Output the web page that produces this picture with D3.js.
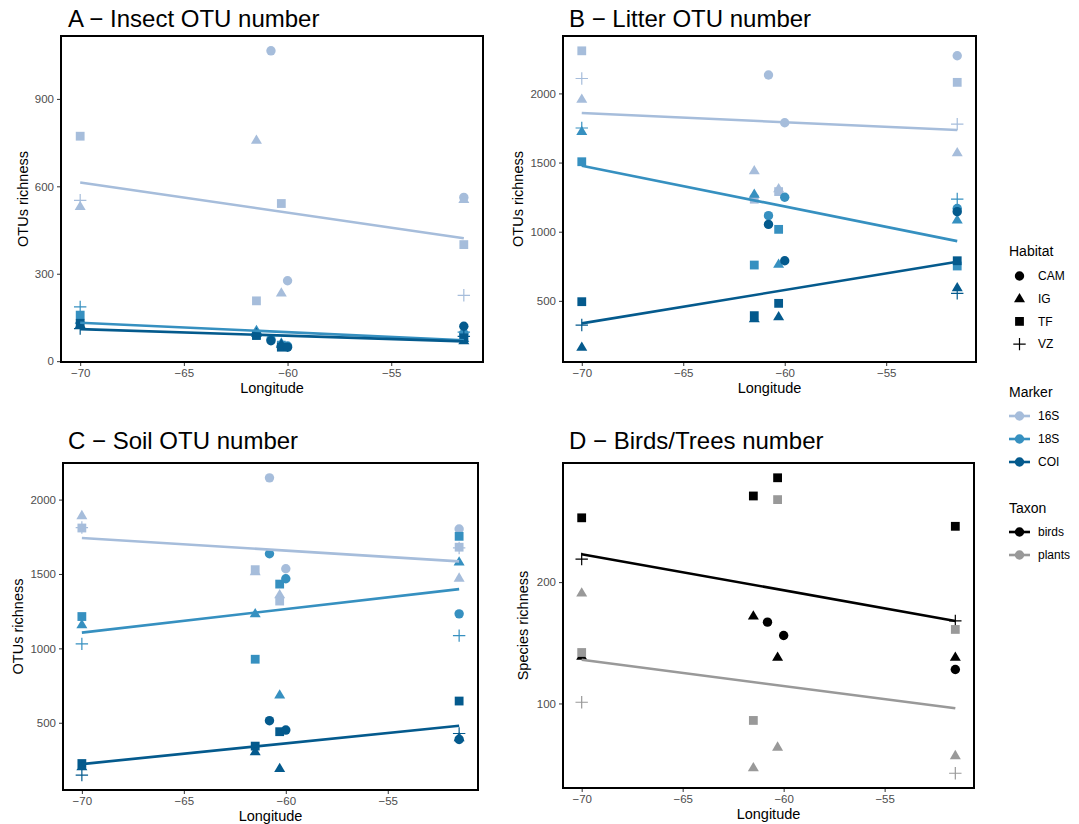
<!DOCTYPE html>
<html>
<head>
<meta charset="utf-8">
<script src="https://cdn.jsdelivr.net/npm/d3@7"></script>
<style>
  body { margin: 0; background: #fff; }
  svg { display: block; font-family: "Liberation Sans", Arial, sans-serif; }
</style>
</head>
<body>
<svg id="chart" width="1079" height="824"></svg>
<script>
// ---- data ----
var longitudeTicks = [-70, -65, -60, -55];
var habitats = ["CAM", "IG", "TF", "VZ"];
var markers = ["16S", "18S", "COI"];
var markerColors = ["#a6bddb", "#3690c0", "#045a8d"];
var taxa = ["birds", "plants"];
var taxonColors = ["#000000", "#999999"];
var fitLongitudes = [-70, -51.5];

// [longitude, habitat, group, richness]
var insectData = [
  [-70, "TF", "16S", 772], [-70, "VZ", "16S", 552], [-70, "IG", "16S", 531],
  [-61.5, "IG", "16S", 758], [-61.5, "TF", "16S", 207], [-60.8, "CAM", "16S", 1065],
  [-60.3, "TF", "16S", 541], [-60.3, "IG", "16S", 234], [-60, "CAM", "16S", 276],
  [-51.5, "CAM", "16S", 562], [-51.5, "IG", "16S", 555], [-51.5, "TF", "16S", 400], [-51.5, "VZ", "16S", 226],
  [-70, "VZ", "18S", 186], [-70, "TF", "18S", 158], [-70, "IG", "18S", 140],
  [-61.5, "IG", "18S", 105], [-61.5, "TF", "18S", 92], [-60.8, "CAM", "18S", 75],
  [-60.3, "IG", "18S", 62], [-60.3, "TF", "18S", 55], [-60, "CAM", "18S", 52],
  [-51.5, "CAM", "18S", 95], [-51.5, "VZ", "18S", 100], [-51.5, "TF", "18S", 88], [-51.5, "IG", "18S", 78],
  [-70, "TF", "COI", 130], [-70, "IG", "COI", 125], [-70, "VZ", "COI", 112],
  [-61.5, "IG", "COI", 96], [-61.5, "TF", "COI", 88], [-60.8, "CAM", "COI", 70],
  [-60.3, "IG", "COI", 58], [-60.3, "TF", "COI", 48], [-60, "CAM", "COI", 48],
  [-51.5, "CAM", "COI", 120], [-51.5, "VZ", "COI", 85], [-51.5, "TF", "COI", 80], [-51.5, "IG", "COI", 70]
];
var insectFit = [["16S", 613, 422], ["18S", 132, 72], ["COI", 110, 68]];
var insectTicks = [0, 300, 600, 900];

var litterData = [
  [-70, "TF", "16S", 2308], [-70, "VZ", "16S", 2108], [-70, "IG", "16S", 1957],
  [-61.5, "IG", "16S", 1441], [-61.5, "TF", "16S", 1235], [-60.8, "CAM", "16S", 2133],
  [-60.3, "IG", "16S", 1310], [-60.3, "TF", "16S", 1290], [-60, "CAM", "16S", 1788],
  [-51.5, "CAM", "16S", 2272], [-51.5, "TF", "16S", 2080], [-51.5, "VZ", "16S", 1778], [-51.5, "IG", "16S", 1571],
  [-70, "VZ", "18S", 1750], [-70, "IG", "18S", 1725], [-70, "TF", "18S", 1506],
  [-61.5, "IG", "18S", 1270], [-61.5, "TF", "18S", 759], [-60.8, "CAM", "18S", 1116],
  [-60.3, "TF", "18S", 1017], [-60.3, "IG", "18S", 764], [-60, "CAM", "18S", 1249],
  [-51.5, "VZ", "18S", 1236], [-51.5, "CAM", "18S", 1168], [-51.5, "IG", "18S", 1084], [-51.5, "TF", "18S", 752],
  [-70, "TF", "COI", 494], [-70, "VZ", "COI", 325], [-70, "IG", "COI", 165],
  [-61.5, "TF", "COI", 393], [-61.5, "IG", "COI", 370], [-60.8, "CAM", "COI", 1053],
  [-60.3, "TF", "COI", 482], [-60.3, "IG", "COI", 385], [-60, "CAM", "COI", 790],
  [-51.5, "CAM", "COI", 1145], [-51.5, "TF", "COI", 790], [-51.5, "IG", "COI", 595], [-51.5, "VZ", "COI", 554]
];
var litterFit = [["16S", 1858, 1735], ["18S", 1477, 932], ["COI", 337, 783]];
var litterTicks = [500, 1000, 1500, 2000];

var soilData = [
  [-70, "IG", "16S", 1892], [-70, "TF", "16S", 1809], [-70, "VZ", "16S", 1812],
  [-61.5, "TF", "16S", 1529], [-61.5, "IG", "16S", 1515], [-60.8, "CAM", "16S", 2146],
  [-60.3, "IG", "16S", 1360], [-60.3, "TF", "16S", 1318], [-60, "CAM", "16S", 1535],
  [-51.5, "CAM", "16S", 1802], [-51.5, "TF", "16S", 1680], [-51.5, "VZ", "16S", 1675], [-51.5, "IG", "16S", 1472],
  [-70, "TF", "18S", 1214], [-70, "IG", "18S", 1158], [-70, "VZ", "18S", 1030],
  [-61.5, "IG", "18S", 1232], [-61.5, "TF", "18S", 927], [-60.8, "CAM", "18S", 1636],
  [-60.3, "TF", "18S", 1432], [-60.3, "IG", "18S", 687], [-60, "CAM", "18S", 1468],
  [-51.5, "TF", "18S", 1753], [-51.5, "IG", "18S", 1580], [-51.5, "CAM", "18S", 1232], [-51.5, "VZ", "18S", 1086],
  [-70, "TF", "COI", 226], [-70, "IG", "COI", 205], [-70, "VZ", "COI", 148],
  [-61.5, "TF", "COI", 343], [-61.5, "IG", "COI", 305], [-60.8, "CAM", "COI", 514],
  [-60.3, "TF", "COI", 440], [-60.3, "IG", "COI", 193], [-60, "CAM", "COI", 451],
  [-51.5, "TF", "COI", 646], [-51.5, "VZ", "COI", 428], [-51.5, "IG", "COI", 399], [-51.5, "CAM", "COI", 388]
];
var soilFit = [["16S", 1742, 1585], ["18S", 1106, 1398], ["COI", 222, 480]];
var soilTicks = [500, 1000, 1500, 2000];

var speciesData = [
  [-70, "TF", "birds", 253], [-70, "VZ", "birds", 219], [-70, "IG", "birds", 139],
  [-61.5, "TF", "birds", 271], [-61.5, "IG", "birds", 172], [-60.8, "CAM", "birds", 167],
  [-60.3, "TF", "birds", 286], [-60.3, "IG", "birds", 138], [-60, "CAM", "birds", 156],
  [-51.5, "TF", "birds", 246], [-51.5, "VZ", "birds", 168], [-51.5, "IG", "birds", 138], [-51.5, "CAM", "birds", 128],
  [-70, "IG", "plants", 191], [-70, "TF", "plants", 142], [-70, "VZ", "plants", 101],
  [-61.5, "TF", "plants", 86], [-61.5, "IG", "plants", 47], [-60.3, "TF", "plants", 268],
  [-60.3, "IG", "plants", 64], [-51.5, "TF", "plants", 161], [-51.5, "IG", "plants", 57], [-51.5, "VZ", "plants", 42.5]
];
var speciesFit = [["birds", 223, 168], ["plants", 136, 96]];
var speciesTicks = [100, 200];

// ---- layout ----
var panels = [
  { title: "A \u2212 Insect OTU number", data: insectData, fit: insectFit, yTicks: insectTicks,
    yLabel: "OTUs richness", groups: markers, colors: markerColors,
    box: [61, 36, 483, 362], titleX: 68, titleY: 27, yTitleX: 23 },
  { title: "B \u2212 Litter OTU number", data: litterData, fit: litterFit, yTicks: litterTicks,
    yLabel: "OTUs richness", groups: markers, colors: markerColors,
    box: [563, 36, 976, 362], titleX: 569, titleY: 27, yTitleX: 518 },
  { title: "C \u2212 Soil OTU number", data: soilData, fit: soilFit, yTicks: soilTicks,
    yLabel: "OTUs richness", groups: markers, colors: markerColors,
    box: [63, 463, 478, 790], titleX: 68, titleY: 449, yTitleX: 18 },
  { title: "D \u2212 Birds/Trees number", data: speciesData, fit: speciesFit, yTicks: speciesTicks,
    yLabel: "Species richness", groups: taxa, colors: taxonColors,
    box: [563, 463, 974, 788], titleX: 569, titleY: 449, yTitleX: 523 }
];

var svg = d3.select("#chart");

// ggplot-like shapes: 16 circle, 17 triangle, 15 square, 3 plus
function shapePath(habitat) {
  if (habitat === "CAM") return "M4.7,0A4.7,4.7 0 1,1 -4.7,0A4.7,4.7 0 1,1 4.7,0Z";
  if (habitat === "IG") return "M0,-5.8L5.5,3.5L-5.5,3.5Z";
  if (habitat === "TF") return "M-4.4,-4.4H4.4V4.4H-4.4Z";
  return "M-6.2,0H6.2M0,-6.2V6.2";
}

function drawPoint(g, habitat, color, x, y) {
  var p = g.append("path")
    .attr("transform", "translate(" + x + "," + y + ")")
    .attr("d", shapePath(habitat));
  if (habitat === "VZ") {
    p.attr("fill", "none").attr("stroke", color).attr("stroke-width", 1.2);
  } else {
    p.attr("fill", color);
  }
}

// pad the value range like ggplot's 5% expansion
function expand(extent) {
  var pad = (extent[1] - extent[0]) * 0.05;
  return [extent[0] - pad, extent[1] + pad];
}

panels.forEach(function (panel) {
  var left = panel.box[0], top = panel.box[1], right = panel.box[2], bottom = panel.box[3];
  var g = svg.append("g");
  var color = d3.scaleOrdinal().domain(panel.groups).range(panel.colors);

  var x = d3.scaleLinear()
    .domain(expand(d3.extent(panel.data, function (d) { return d[0]; })))
    .range([left, right]);
  var y = d3.scaleLinear()
    .domain(expand(d3.extent(panel.data, function (d) { return d[3]; })))
    .range([bottom, top]);

  // axes
  var xAxis = d3.axisBottom(x).tickValues(longitudeTicks).tickSize(4).tickPadding(3)
    .tickFormat(function (d) { return d3.format("d")(d).replace("-", "\u2212"); });
  var yAxis = d3.axisLeft(y).tickValues(panel.yTicks).tickSize(4).tickPadding(3)
    .tickFormat(d3.format("d"));

  [g.append("g").attr("transform", "translate(0," + bottom + ")").call(xAxis),
   g.append("g").attr("transform", "translate(" + left + ",0)").call(yAxis)].forEach(function (a) {
    a.select(".domain").remove();
    a.selectAll(".tick line").attr("stroke", "#333333").attr("stroke-width", 1);
    a.selectAll(".tick text").attr("fill", "#4d4d4d")
      .style("font-size", "11.5px").style("font-family", "\"Liberation Sans\", Arial, sans-serif");
  });

  // points then fitted lines
  var pts = g.append("g");
  panel.data.forEach(function (d) {
    drawPoint(pts, d[1], color(d[2]), x(d[0]), y(d[3]));
  });

  var line = d3.line()
    .x(function (d) { return x(d[0]); })
    .y(function (d) { return y(d[1]); });
  panel.fit.forEach(function (f) {
    g.append("path")
      .attr("d", line([[fitLongitudes[0], f[1]], [fitLongitudes[1], f[2]]]))
      .attr("fill", "none")
      .attr("stroke", color(f[0]))
      .attr("stroke-width", 2.6);
  });

  // panel border
  g.append("rect")
    .attr("x", left).attr("y", top)
    .attr("width", right - left).attr("height", bottom - top)
    .attr("fill", "none").attr("stroke", "#000").attr("stroke-width", 2);

  // titles
  g.append("text")
    .attr("x", panel.titleX).attr("y", panel.titleY)
    .style("font-size", "24px").attr("fill", "#000")
    .text(panel.title);
  g.append("text")
    .attr("x", (left + right) / 2).attr("y", bottom + 31)
    .attr("text-anchor", "middle")
    .style("font-size", "14.5px").attr("fill", "#000")
    .text("Longitude");
  g.append("text")
    .attr("transform", "translate(" + panel.yTitleX + "," + (top + bottom) / 2 + ") rotate(-90)")
    .attr("text-anchor", "middle").attr("dy", "0.35em")
    .style("font-size", "14.5px").attr("fill", "#000")
    .text(panel.yLabel);
});

// ---- legends ----
var legend = svg.append("g");
function legendTitle(text, cy) {
  legend.append("text").attr("x", 1009).attr("y", cy).attr("dy", "0.35em")
    .style("font-size", "14px").attr("fill", "#000").text(text);
}
function legendLabel(text, cy) {
  legend.append("text").attr("x", 1038).attr("y", cy).attr("dy", "0.35em")
    .style("font-size", "12px").attr("fill", "#000").text(text);
}

legendTitle("Habitat", 251);
habitats.forEach(function (h, i) {
  var cy = 276 + i * 22.7;
  drawPoint(legend, h, "#000", 1019.5, cy);
  legendLabel(h, cy);
});

function lineKeys(title, titleY, names, colors) {
  legendTitle(title, titleY);
  names.forEach(function (n, i) {
    var cy = titleY + 24 + i * 23;
    legend.append("line").attr("x1", 1009).attr("x2", 1030).attr("y1", cy).attr("y2", cy)
      .attr("stroke", colors[i]).attr("stroke-width", 2.6);
    drawPoint(legend, "CAM", colors[i], 1019.5, cy);
    legendLabel(n, cy);
  });
}
lineKeys("Marker", 392, markers, markerColors);
lineKeys("Taxon", 508, taxa, taxonColors);
</script>
</body>
</html>
